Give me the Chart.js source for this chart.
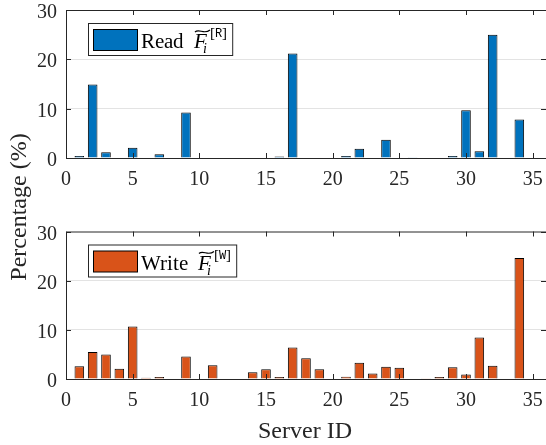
<!DOCTYPE html>
<html>
<head>
<meta charset="utf-8">
<script src="https://cdn.jsdelivr.net/npm/chart.js@4.4.1/dist/chart.umd.min.js"></script>
<style>
  @font-face { font-family: "PlotSerif"; src: local("Liberation Serif"), local("LiberationSerif-Regular"), local("LiberationSerif"); font-style: normal; }
  @font-face { font-family: "PlotSerif"; src: local("Liberation Serif Italic"), local("LiberationSerif-Italic"); font-style: italic; }
  body { margin: 0; background: #fff; font-family: "Liberation Serif", "Times New Roman", serif; }
  #page { position: relative; width: 546px; height: 445px; overflow: hidden; }
  .plot { position: absolute; left: 0; width: 546px; height: 200px; }
  .tick { position: absolute; font-size: 20px; color: #262626; white-space: nowrap; line-height: 1; }
  #ylabel {
    position: absolute; left: 18px; top: 207px; color: #262626;
    font-size: 24px; white-space: nowrap;
    transform: translate(-50%, -50%) rotate(-90deg);
  }
  #xlabel {
    position: absolute; left: 305px; top: 430px; color: #262626;
    font-size: 24px; white-space: nowrap;
    transform: translate(-50%, -50%);
  }
</style>
</head>
<body>
<div id="page">
  <div class="plot" style="top:0"><canvas id="readChart" width="546" height="200"></canvas></div>
  <div class="plot" style="top:220px"><canvas id="writeChart" width="546" height="200"></canvas></div>
  <div id="ylabel">Percentage (%)</div>
  <div id="xlabel">Server ID</div>
</div>

<script>
// Data (percent per server)
const serverIds = [1, 2, 3, 4, 5, 6, 7, 8, 9, 10, 11, 12, 13, 14, 15, 16, 17,
  18, 19, 20, 21, 22, 23, 24, 25, 26, 27, 28, 29, 30, 31, 32, 33, 34];
const readPct = [0.4, 14.9, 1.15, 0, 2.1, 0.1, 0.75, 0, 9.2, 0, 0, 0, 0, 0, 0, 0.3, 21.2,
  0, 0, 0, 0.4, 1.9, 0, 3.7, 0, 0.05, 0, 0, 0.4, 9.7, 1.35, 25.0, 0, 7.8];
const writePct = [2.6, 5.5, 5.0, 2.1, 10.7, 0.27, 0.4, 0, 4.6, 0, 2.8, 0, 0, 1.35, 2.0, 0.4, 6.4,
  4.2, 2.0, 0, 0.47, 3.3, 1.1, 2.5, 2.3, 0.1, 0.05, 0.4, 2.4, 0.9, 8.45, 2.7, 0, 24.6];
const xTicks = [0, 5, 10, 15, 20, 25, 30, 35];
const yTicks = [0, 10, 20, 30];

const AXIS = "#262626";
const FONT = "PlotSerif, 'Liberation Serif', serif";
const MONO = "'Liberation Mono', 'DejaVu Sans Mono', monospace";
const page = document.getElementById("page");

/* =========================
   MATLAB-style box, inward ticks, legend
========================= */
const boxPlugin = {
  id: "boxPlugin",
  afterDraw(chart, args, opts) {
    const ctx = chart.ctx;
    const a = chart.chartArea;
    const xs = chart.scales.x, ys = chart.scales.y;
    ctx.save();
    ctx.strokeStyle = AXIS;
    ctx.lineWidth = 1;
    ctx.beginPath();
    ctx.rect(a.left + 0.5, a.top + 0.5, a.right - a.left, a.bottom - a.top);
    ctx.stroke();

    ctx.beginPath();
    xTicks.forEach(v => {
      const px = Math.round(xs.getPixelForValue(v)) + 0.5;
      ctx.moveTo(px, a.bottom); ctx.lineTo(px, a.bottom - 5);
      ctx.moveTo(px, a.top); ctx.lineTo(px, a.top + 5);
    });
    yTicks.forEach(v => {
      const py = Math.round(ys.getPixelForValue(v)) + 0.5;
      ctx.moveTo(a.left, py); ctx.lineTo(a.left + 5, py);
      ctx.moveTo(a.right, py); ctx.lineTo(a.right - 5, py);
    });
    ctx.stroke();

    // legend
    const x0 = a.left + 22, y0 = a.top + 13;
    const tx = x0 + 53;
    ctx.textAlign = "left";
    ctx.textBaseline = "alphabetic";
    ctx.font = "21px " + FONT;
    const wordW = ctx.measureText(opts.word).width;
    const fx = tx + wordW + 10;
    ctx.font = "italic 21px " + FONT;
    const fW = ctx.measureText("F").width;
    const sx = fx + fW + 3;
    ctx.font = "15px " + FONT;
    const bw = ctx.measureText("[").width;
    ctx.font = "12px " + MONO;
    const sw = ctx.measureText(opts.sup).width;
    const boxW = sx + 2 * bw + sw + 5 - x0;
    const boxH = 32;
    ctx.fillStyle = "#fff";
    ctx.fillRect(x0, y0, boxW, boxH);
    ctx.strokeStyle = AXIS;
    ctx.strokeRect(x0 + 0.5, y0 + 0.5, boxW, boxH);
    ctx.fillStyle = opts.color;
    ctx.fillRect(x0 + 5.5, y0 + 6.5, 44, 21);
    ctx.strokeStyle = "#000";
    ctx.strokeRect(x0 + 5.5, y0 + 6.5, 44, 21);

    const base = y0 + 25;
    ctx.fillStyle = "#000";
    ctx.font = "21px " + FONT;
    ctx.fillText(opts.word, tx, base);
    ctx.font = "italic 21px " + FONT;
    ctx.fillText("F", fx, base);
    // wide tilde over F
    ctx.beginPath();
    ctx.lineWidth = 1.2;
    const ty = base - 16;
    ctx.moveTo(fx + 1, ty);
    ctx.bezierCurveTo(fx + 5, ty - 4, fx + 10, ty + 3, fx + fW + 3, ty - 2);
    ctx.stroke();
    ctx.font = "italic 14px " + FONT;
    ctx.fillText("i", fx + fW - 4, base + 5);
    ctx.font = "15px " + FONT;
    ctx.fillText("[", sx, base - 10);
    ctx.font = "12px " + MONO;
    ctx.fillText(opts.sup, sx + bw, base - 11);
    ctx.font = "15px " + FONT;
    ctx.fillText("]", sx + bw + sw, base - 10);
    ctx.restore();
  }
};

// tick labels as page text, placed from the chart's own scales
function addTickLabels(chart, top) {
  const a = chart.chartArea;
  xTicks.forEach(v => {
    const d = document.createElement("div");
    d.className = "tick";
    d.textContent = v;
    d.style.left = chart.scales.x.getPixelForValue(v) + "px";
    d.style.top = (top + a.bottom + 20) + "px";
    d.style.transform = "translate(-50%, -50%)";
    page.appendChild(d);
  });
  yTicks.forEach(v => {
    const d = document.createElement("div");
    d.className = "tick";
    d.textContent = v;
    d.style.left = (a.left - 9) + "px";
    d.style.top = (top + chart.scales.y.getPixelForValue(v) + 1) + "px";
    d.style.transform = "translate(-100%, -50%)";
    page.appendChild(d);
  });
}

function makeChart(canvasId, values, color, word, sup, padTop, axisH) {
  const points = serverIds.map((id, i) => ({ x: id, y: values[i] }));
  return new Chart(document.getElementById(canvasId), {
    type: "bar",
    data: {
      datasets: [{
        data: points,
        backgroundColor: color,
        borderColor: "#000",
        borderWidth: 1,
        barPercentage: 0.72,
        categoryPercentage: 1
      }]
    },
    options: {
      responsive: false,
      animation: false,
      devicePixelRatio: 1,
      layout: { padding: { top: padTop, right: 0, left: 0, bottom: 0 } },
      plugins: {
        legend: { display: false },
        tooltip: { enabled: false },
        boxPlugin: { color: color, word: word, sup: sup }
      },
      scales: {
        x: {
          type: "linear",
          offset: false,
          min: 0,
          max: 36,
          afterBuildTicks: s => { s.ticks = xTicks.map(v => ({ value: v })); },
          afterFit: s => { s.height = axisH; s.paddingLeft = 0; s.paddingRight = 0; },
          grid: { display: false, offset: false },
          border: { display: false },
          ticks: { display: false }
        },
        y: {
          min: 0,
          max: 30,
          afterBuildTicks: s => { s.ticks = yTicks.map(v => ({ value: v })); },
          afterFit: s => { s.width = 66; s.paddingTop = 0; s.paddingBottom = 0; },
          grid: {
            drawTicks: false,
            color: c => (c.tick.value === 0 || c.tick.value === 30) ? "rgba(0,0,0,0)" : "#e3e3e3"
          },
          border: { display: false },
          ticks: { display: false }
        }
      }
    },
    plugins: [boxPlugin]
  });
}

// load the serif face first so canvas text does not fall back
Promise.all([
  document.fonts.load("20px PlotSerif"),
  document.fonts.load("italic 20px PlotSerif")
]).catch(() => {}).then(() => {
  const readChart = makeChart("readChart", readPct, "#0072BD", "Read", "R", 10, 200 - 158);
  const writeChart = makeChart("writeChart", writePct, "#D95319", "Write", "W", 11.5, 200 - 159);
  addTickLabels(readChart, 0);
  addTickLabels(writeChart, 220);
});
</script>
</body>
</html>
